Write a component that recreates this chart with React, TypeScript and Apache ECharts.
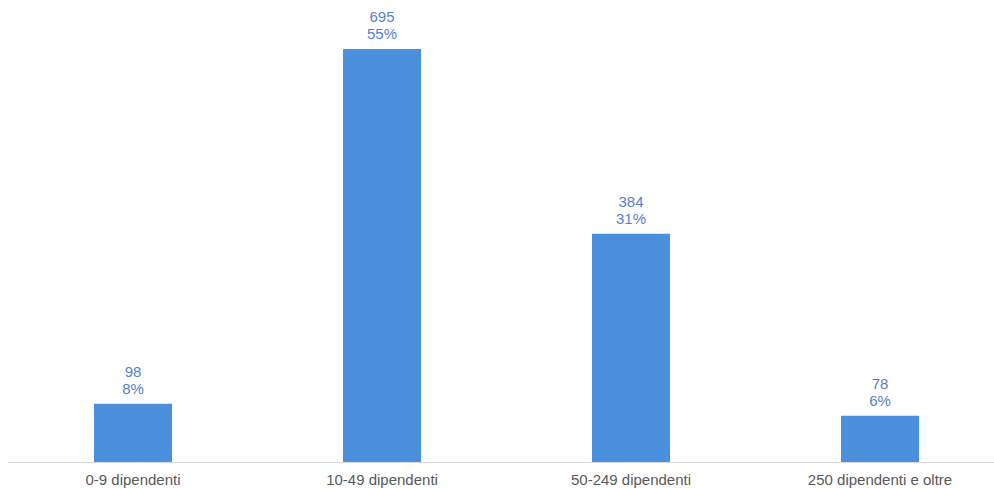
import React, { useEffect, useRef } from "react";
import * as echarts from "echarts";

const categories = ["0-9 dipendenti", "10-49 dipendenti", "50-249 dipendenti", "250 dipendenti e oltre"];
const counts = [98, 695, 384, 78];
const percents = ["8%", "55%", "31%", "6%"];

export default function App() {
  const ref = useRef<HTMLDivElement>(null);
  useEffect(() => {
    if (!ref.current) return;
    const chart = echarts.init(ref.current, undefined, { renderer: "svg" });
    chart.setOption({
      animation: false,
      grid: { left: 8.5, width: 996, top: 49, bottom: 26, containLabel: false },
      xAxis: {
        type: "category",
        data: categories,
        axisTick: { show: false },
        axisLine: { lineStyle: { color: "#d9d9d9", width: 1 } },
        axisLabel: { color: "#595959", fontSize: 15, fontFamily: "Liberation Sans, Arial, sans-serif", margin: 10 },
      },
      yAxis: {
        type: "value",
        min: 0,
        max: 695,
        show: false,
        splitLine: { show: false },
      },
      series: [
        {
          type: "bar",
          data: counts,
          barWidth: 78,
          itemStyle: { color: "#4a90dc" },
          label: {
            show: true,
            position: "top",
            distance: 7,
            color: "#5580d0",
            fontSize: 15,
            lineHeight: 17,
            fontFamily: "Liberation Sans, Arial, sans-serif",
            formatter: (p: any) => `${p.value}\n${percents[p.dataIndex]}`,
          },
        },
      ],
    });
    return () => chart.dispose();
  }, []);
  return (
    <div style={{ width: 994, height: 488, position: "absolute", left: 0, top: 0, overflow: "hidden" }}>
      <div ref={ref} style={{ width: 1006, height: 488 }} />
    </div>
  );
}
